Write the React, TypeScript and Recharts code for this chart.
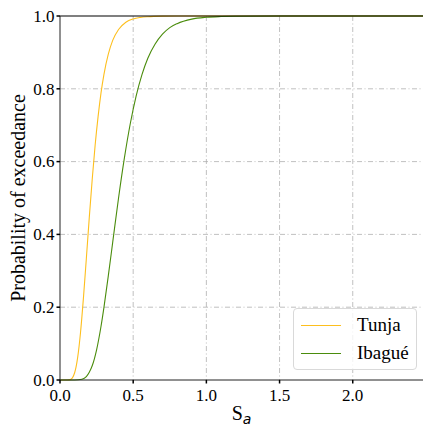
import React from 'react';
import { LineChart, Line, XAxis, YAxis, CartesianGrid, ReferenceLine } from 'recharts';

const tunjaSa = [0, 0.05, 0.07, 0.1, 0.12, 0.14, 0.16, 0.18, 0.2, 0.22, 0.24, 0.26, 0.28, 0.3, 0.33, 0.36, 0.4, 0.45, 0.5, 0.55, 0.6, 0.7, 0.8, 1.0, 1.5, 2.0, 2.48];
const tunjaP = [0, 0, 0.001, 0.02, 0.06, 0.13, 0.225, 0.334, 0.446, 0.551, 0.645, 0.723, 0.788, 0.839, 0.895, 0.933, 0.963, 0.983, 0.992, 0.996, 0.998, 0.9996, 1, 1, 1, 1, 1];

const ibagueSa = [0, 0.1, 0.15, 0.18, 0.2, 0.22, 0.25, 0.28, 0.3, 0.33, 0.36, 0.4, 0.44, 0.48, 0.52, 0.56, 0.6, 0.65, 0.7, 0.75, 0.8, 0.9, 1.0, 1.1, 1.2, 1.5, 2.0, 2.48];
const ibagueP = [0, 0, 0.002, 0.009, 0.021, 0.039, 0.083, 0.147, 0.199, 0.286, 0.378, 0.5, 0.61, 0.704, 0.78, 0.839, 0.884, 0.923, 0.95, 0.968, 0.979, 0.9915, 0.9965, 0.9985, 0.9994, 1, 1, 1];

const xTicks = [0, 0.5, 1.0, 1.5, 2.0];
const yTicks = [0, 0.2, 0.4, 0.6, 0.8, 1.0];
const seriesNames = ['Tunja', 'Ibagué'];
const seriesColors = ['#FDBF1E', '#4A8C0C'];

const tunjaData = tunjaSa.map((sa, i) => ({ sa, p: tunjaP[i] }));
const ibagueData = ibagueSa.map((sa, i) => ({ sa, p: ibagueP[i] }));

const FONT = 'Liberation Serif, Times New Roman, serif';
const serifStyle = { fontFamily: FONT };

const XTick = (props: any) => {
  const { x, y, payload } = props;
  return (
    <text x={x} y={y + 15} textAnchor="middle" fontFamily={FONT} style={serifStyle} fontSize={17} fill="#000">
      {Number(payload.value).toFixed(1)}
    </text>
  );
};

const YTick = (props: any) => {
  const { x, y, payload } = props;
  return (
    <text x={x} y={y + 5.8} textAnchor="end" fontFamily={FONT} style={serifStyle} fontSize={17} fill="#000">
      {Number(payload.value).toFixed(1)}
    </text>
  );
};

const XLabel = (props: any) => {
  const vb = props.viewBox || {};
  const cx = vb.x + vb.width / 2;
  return (
    <text x={cx} y={420} textAnchor="middle" fontFamily={FONT} style={serifStyle} fontSize={20} fill="#000">
      <tspan>S</tspan>
      <tspan style={{ fontFamily: 'DejaVu Sans, sans-serif' }} fontStyle="italic" fontSize={14} dy={4}>a</tspan>
    </text>
  );
};

const YLabel = (props: any) => {
  const vb = props.viewBox || {};
  const cy = vb.y + vb.height / 2;
  const x = 25;
  return (
    <text x={x} y={cy} transform={`rotate(-90, ${x}, ${cy})`} textAnchor="middle" fontFamily={FONT} style={serifStyle} fontSize={20} fill="#000">
      Probability of exceedance
    </text>
  );
};

const LegendBox = () => (
  <div
    style={{
      position: 'absolute',
      left: 293,
      top: 308,
      width: 124,
      height: 62,
      border: '1px solid #d9d9d9',
      borderRadius: 4,
      background: 'rgba(255,255,255,0.8)',
      boxSizing: 'border-box',
      fontFamily: FONT,
    }}
  >
    {seriesNames.map((n, i) => (
      <div key={n} style={{ position: 'absolute', left: 7, top: 3 + i * 28, height: 26, display: 'flex', alignItems: 'center' }}>
        <div style={{ width: 40, height: 0, borderTop: `1.5px solid ${seriesColors[i]}` }} />
        <span style={{ marginLeft: 16, color: '#000', fontFamily: FONT, fontSize: 19, lineHeight: '26px' }}>{n}</span>
      </div>
    ))}
  </div>
);

export default function App() {
  return (
    <div style={{ position: 'absolute', left: 0, top: 0, width: 424, height: 428, background: '#fff', fontFamily: FONT }}>
      <LineChart width={424} height={428} margin={{ top: 16, right: 1, bottom: 18, left: 0 }} style={serifStyle}>
        <CartesianGrid stroke="#b0b0b0" strokeDasharray="5 2.5 1 2.5" strokeWidth={0.8} verticalValues={[0.5, 1.0, 1.5, 2.0]} horizontalValues={[0.2, 0.4, 0.6, 0.8]} />
        <XAxis
          type="number"
          dataKey="sa"
          domain={[0, 2.48]}
          ticks={xTicks}
          allowDataOverflow
          height={30}
          stroke="#000"
          tickSize={3.5}
          tick={<XTick />}
          tickLine={{ stroke: '#000', strokeWidth: 1.5 }}
          axisLine={{ stroke: '#222', strokeWidth: 1 }}
          label={<XLabel />}
        />
        <YAxis
          type="number"
          domain={[0, 1]}
          ticks={yTicks}
          width={60}
          stroke="#000"
          tickSize={3.5}
          tick={<YTick />}
          tickLine={{ stroke: '#000', strokeWidth: 1.5 }}
          axisLine={{ stroke: '#222', strokeWidth: 1 }}
          label={<YLabel />}
        />
        <Line data={tunjaData} dataKey="p" type="monotone" stroke={seriesColors[0]} strokeWidth={1.1} dot={false} isAnimationActive={false} name={seriesNames[0]} />
        <Line data={ibagueData} dataKey="p" type="monotone" stroke={seriesColors[1]} strokeWidth={1.1} dot={false} isAnimationActive={false} name={seriesNames[1]} />
        <ReferenceLine y={1} stroke="#000" strokeWidth={1.2} />
      </LineChart>
      <LegendBox />
    </div>
  );
}
